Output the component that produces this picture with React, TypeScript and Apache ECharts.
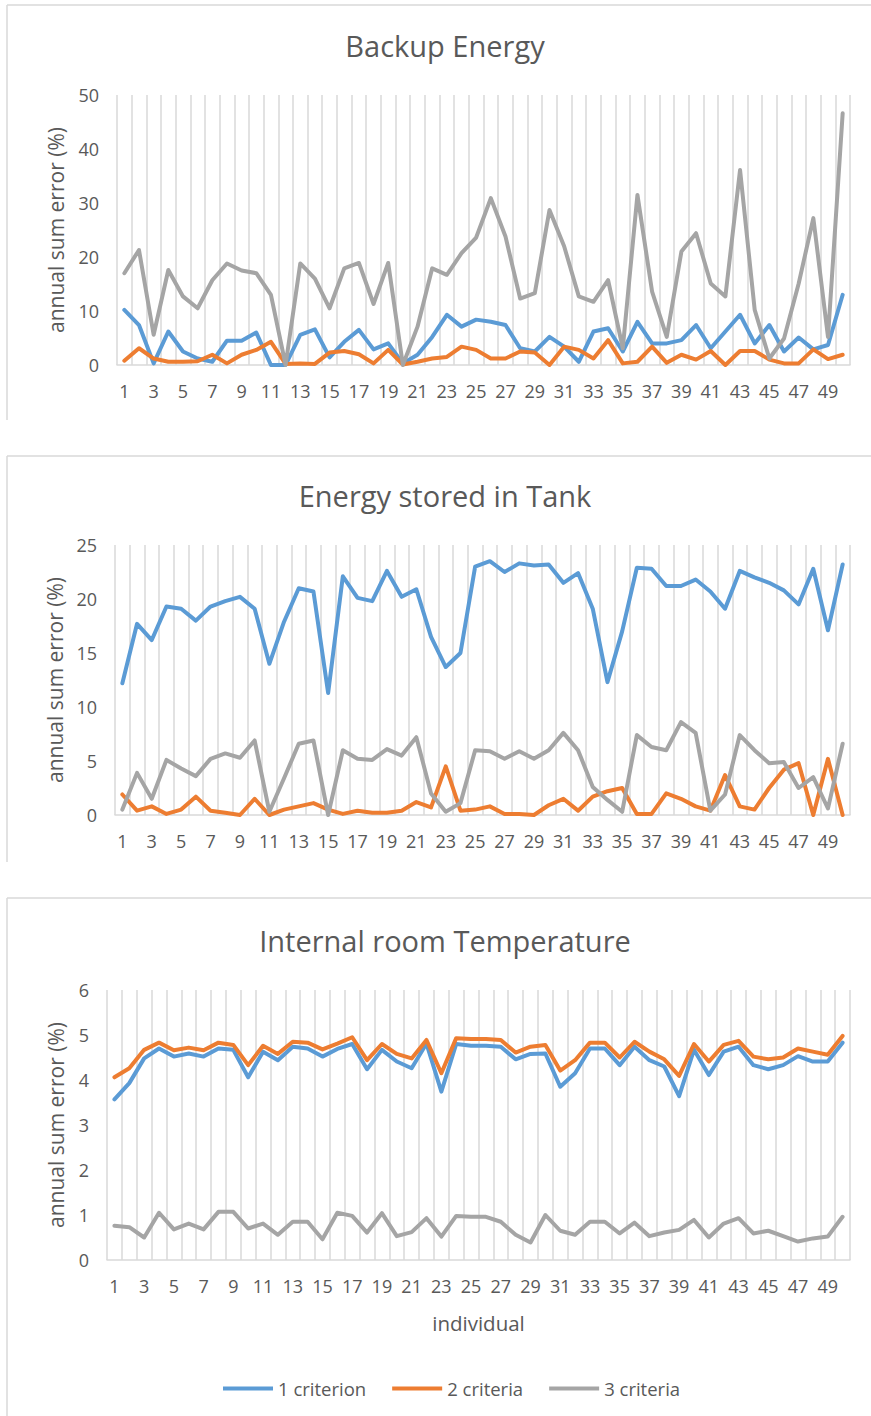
import React, { useEffect, useRef } from "react";
import * as echarts from "echarts";

const categories = [
  "1","2","3","4","5","6","7","8","9","10",
  "11","12","13","14","15","16","17","18","19","20",
  "21","22","23","24","25","26","27","28","29","30",
  "31","32","33","34","35","36","37","38","39","40",
  "41","42","43","44","45","46","47","48","49","50",
];

const seriesNames = ["1 criterion", "2 criteria", "3 criteria"];
const chartTitles = ["Backup Energy", "Energy stored in Tank", "Internal room Temperature"];
const yAxisMax = [50, 25, 6];
const yAxisStep = [10, 5, 1];

// Backup Energy
const backupOne = [10.2, 7.4, 0.3, 6.2, 2.5, 1.2, 0.6, 4.5, 4.5, 6.0, 0, 0, 5.6, 6.6, 1.4, 4.3, 6.5, 2.9, 4.0, 0.3, 1.9, 5.2, 9.3, 7.1, 8.4, 8.0, 7.4, 3.1, 2.5, 5.2, 3.4, 0.6, 6.2, 6.8, 2.5, 8.0, 4.0, 4.0, 4.6, 7.4, 3.1, 6.2, 9.3, 4.0, 7.4, 2.5, 5.1, 2.9, 3.7, 13.0];
const backupTwo = [0.8, 3.1, 1.2, 0.6, 0.6, 0.7, 1.9, 0.3, 1.9, 2.8, 4.3, 0.2, 0.3, 0.2, 2.3, 2.6, 2.0, 0.3, 2.8, 0.1, 0.6, 1.2, 1.5, 3.4, 2.8, 1.2, 1.2, 2.5, 2.3, 0, 3.4, 2.8, 1.2, 4.6, 0.3, 0.6, 3.4, 0.4, 1.9, 1.0, 2.6, 0, 2.6, 2.6, 1.0, 0.3, 0.3, 2.9, 1.1, 1.9];
const backupThree = [17.0, 21.3, 5.6, 17.6, 12.7, 10.5, 15.7, 18.8, 17.5, 17.0, 13.0, 0, 18.8, 16.0, 10.5, 17.9, 18.9, 11.3, 18.9, 0, 7.1, 17.9, 16.7, 20.7, 23.6, 30.9, 23.8, 12.3, 13.3, 28.7, 22.0, 12.7, 11.7, 15.7, 3.1, 31.5, 13.6, 5.2, 21.0, 24.4, 15.1, 12.7, 36.1, 10.2, 1.2, 4.9, 15.1, 27.2, 5.2, 46.6];

// Energy stored in Tank
const tankOne = [12.2, 17.7, 16.2, 19.3, 19.1, 18.0, 19.3, 19.8, 20.2, 19.1, 14.0, 17.9, 21.0, 20.7, 11.3, 22.1, 20.1, 19.8, 22.6, 20.2, 20.9, 16.5, 13.7, 15.0, 23.0, 23.5, 22.5, 23.3, 23.1, 23.2, 21.5, 22.4, 19.1, 12.3, 17.0, 22.9, 22.8, 21.2, 21.2, 21.8, 20.7, 19.1, 22.6, 22.0, 21.5, 20.8, 19.5, 22.8, 17.1, 23.2];
const tankTwo = [1.9, 0.4, 0.8, 0.1, 0.5, 1.7, 0.4, 0.2, 0, 1.5, 0, 0.5, 0.8, 1.1, 0.5, 0.1, 0.4, 0.2, 0.2, 0.4, 1.2, 0.7, 4.5, 0.4, 0.5, 0.8, 0.1, 0.1, 0, 0.9, 1.5, 0.4, 1.7, 2.2, 2.5, 0.1, 0.1, 2.0, 1.5, 0.8, 0.4, 3.7, 0.8, 0.5, 2.5, 4.2, 4.8, 0, 5.2, 0];
const tankThree = [0.5, 3.9, 1.5, 5.1, 4.3, 3.6, 5.2, 5.7, 5.3, 6.9, 0.3, 3.4, 6.6, 6.9, 0, 6.0, 5.2, 5.1, 6.1, 5.5, 7.2, 2.0, 0.3, 1.1, 6.0, 5.9, 5.2, 5.9, 5.2, 6.0, 7.6, 6.0, 2.6, 1.4, 0.3, 7.4, 6.3, 6.0, 8.6, 7.6, 0.4, 1.9, 7.4, 6.0, 4.8, 4.9, 2.5, 3.5, 0.6, 6.6];

// Internal room Temperature
const tempOne = [3.57, 3.93, 4.48, 4.70, 4.52, 4.59, 4.52, 4.70, 4.67, 4.06, 4.63, 4.44, 4.74, 4.70, 4.52, 4.69, 4.80, 4.24, 4.67, 4.41, 4.26, 4.81, 3.74, 4.80, 4.76, 4.76, 4.74, 4.46, 4.58, 4.59, 3.85, 4.15, 4.70, 4.70, 4.33, 4.74, 4.44, 4.30, 3.64, 4.67, 4.11, 4.63, 4.74, 4.33, 4.24, 4.33, 4.53, 4.41, 4.41, 4.83];
const tempTwo = [4.06, 4.26, 4.67, 4.83, 4.66, 4.72, 4.66, 4.83, 4.78, 4.33, 4.76, 4.58, 4.85, 4.83, 4.68, 4.81, 4.95, 4.44, 4.80, 4.58, 4.48, 4.89, 4.15, 4.93, 4.91, 4.91, 4.89, 4.61, 4.74, 4.78, 4.21, 4.44, 4.83, 4.83, 4.50, 4.85, 4.63, 4.46, 4.09, 4.80, 4.41, 4.78, 4.87, 4.52, 4.46, 4.50, 4.70, 4.63, 4.56, 4.98];
const tempThree = [0.76, 0.73, 0.50, 1.05, 0.68, 0.81, 0.68, 1.07, 1.07, 0.70, 0.81, 0.56, 0.85, 0.85, 0.46, 1.05, 0.98, 0.61, 1.04, 0.53, 0.62, 0.93, 0.52, 0.98, 0.96, 0.96, 0.85, 0.56, 0.39, 1.00, 0.65, 0.56, 0.85, 0.85, 0.59, 0.83, 0.53, 0.61, 0.67, 0.89, 0.50, 0.81, 0.93, 0.59, 0.65, 0.53, 0.41, 0.48, 0.52, 0.96];

const FONT = '"Open Sans", "Noto Sans", sans-serif';
const TEXT = "#595959";
const LINE_GRAY = "#d9d9d9";
const COLORS = ["#5B9BD5", "#ED7D31", "#A5A5A5"];

const grids = [
  { left: 117, top: 95, width: 733, height: 270 },
  { left: 115, top: 545, width: 735, height: 270 },
  { left: 107, top: 990, width: 743, height: 270 },
];
const titleY = [45, 495, 940];
const frames = [
  { top: 5, bottom: 420 },
  { top: 456, bottom: 862 },
  { top: 898, bottom: 1416 },
];
const panelData = [
  [backupOne, backupTwo, backupThree],
  [tankOne, tankTwo, tankThree],
  [tempOne, tempTwo, tempThree],
];

export default function App() {
  const ref = useRef<HTMLDivElement>(null);

  useEffect(() => {
    if (!ref.current) return;
    document.body.style.margin = "0";
    const chart = echarts.init(ref.current, undefined, { renderer: "svg" });

    const xAxis = grids.map((_, i) => ({
      type: "category",
      gridIndex: i,
      data: categories,
      boundaryGap: true,
      axisLine: { show: true, lineStyle: { color: LINE_GRAY, width: 1.5 } },
      axisTick: { show: false },
      axisLabel: { interval: 1, color: TEXT, fontSize: 18, fontFamily: FONT, margin: 17 },
      splitLine: { show: true, interval: 0, lineStyle: { color: LINE_GRAY, width: 1.5 } },
      name: i === 2 ? "individual" : "",
      nameLocation: "middle",
      nameGap: 52,
      nameTextStyle: { color: TEXT, fontSize: 20.5, fontFamily: FONT },
    }));

    const yAxis = grids.map((g, i) => ({
      type: "value",
      gridIndex: i,
      min: 0,
      max: yAxisMax[i],
      interval: yAxisStep[i],
      axisLine: { show: false },
      axisTick: { show: false },
      splitLine: { show: false },
      axisLabel: { color: TEXT, fontSize: 18, fontFamily: FONT, margin: 18 },
      name: "annual sum error (%)",
      nameLocation: "middle",
      nameRotate: 90,
      nameGap: g.left - 66,
      nameTextStyle: { color: TEXT, fontSize: 21, fontFamily: FONT },
    }));

    const series: any[] = [];
    panelData.forEach((sets, gi) => {
      sets.forEach((data, si) => {
        series.push({
          type: "line",
          name: seriesNames[si],
          xAxisIndex: gi,
          yAxisIndex: gi,
          data,
          symbol: "none",
          smooth: false,
          lineStyle: { width: 4, color: COLORS[si], cap: "round", join: "round" },
          itemStyle: { color: COLORS[si] },
          z: 2 + si,
        });
      });
    });

    const graphic: any[] = [];
    frames.forEach((f) => {
      graphic.push({
        type: "line",
        shape: { x1: 7, y1: f.top, x2: 871, y2: f.top },
        style: { stroke: LINE_GRAY, lineWidth: 1.5 },
        silent: true,
      });
      graphic.push({
        type: "line",
        shape: { x1: 7, y1: f.top, x2: 7, y2: f.bottom },
        style: { stroke: LINE_GRAY, lineWidth: 1.5 },
        silent: true,
      });
    });
    chartTitles.forEach((t, i) => {
      graphic.push({
        type: "text",
        x: 445,
        y: titleY[i],
        style: {
          text: t,
          fill: TEXT,
          fontSize: 29,
          fontFamily: FONT,
          align: "center",
          verticalAlign: "middle",
        },
        silent: true,
      });
    });

    chart.setOption({
      animation: false,
      backgroundColor: "#ffffff",
      grid: grids.map((g) => ({ ...g, containLabel: false })),
      xAxis,
      yAxis,
      legend: {
        data: seriesNames,
        left: 218,
        top: 1374,
        icon: "rect",
        itemWidth: 50,
        itemHeight: 4,
        itemGap: 26,
        textStyle: { color: TEXT, fontSize: 18.5, fontFamily: FONT },
      },
      graphic,
      series,
    });

    return () => chart.dispose();
  }, []);

  return (
    <div
      ref={ref}
      style={{ position: "absolute", left: 0, top: 0, width: 871, height: 1416 }}
    />
  );
}
